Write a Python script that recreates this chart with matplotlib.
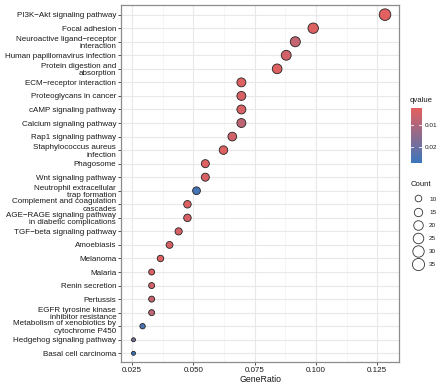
import matplotlib
matplotlib.use("Agg")
import matplotlib.pyplot as plt
from matplotlib.colors import LinearSegmentedColormap, Normalize
from matplotlib.lines import Line2D
from matplotlib.ticker import FixedLocator, FormatStrFormatter
import matplotlib.cm as cm
import numpy as np

plt.rcParams['font.family'] = ['Liberation Sans', 'DejaVu Sans']

# pathways, top to bottom
pathways = [
    "PI3K\u2212Akt signaling pathway",
    "Focal adhesion",
    "Neuroactive ligand\u2212receptor\ninteraction",
    "Human papillomavirus infection",
    "Protein digestion and\nabsorption",
    "ECM\u2212receptor interaction",
    "Proteoglycans in cancer",
    "cAMP signaling pathway",
    "Calcium signaling pathway",
    "Rap1 signaling pathway",
    "Staphylococcus aureus\ninfection",
    "Phagosome",
    "Wnt signaling pathway",
    "Neutrophil extracellular\ntrap formation",
    "Complement and coagulation\ncascades",
    "AGE\u2212RAGE signaling pathway\nin diabetic complications",
    "TGF\u2212beta signaling pathway",
    "Amoebiasis",
    "Melanoma",
    "Malaria",
    "Renin secretion",
    "Pertussis",
    "EGFR tyrosine kinase\ninhibitor resistance",
    "Metabolism of xenobiotics by\ncytochrome P450",
    "Hedgehog signaling pathway",
    "Basal cell carcinoma",
]
gene_ratio = [0.1282, 0.0989, 0.0916, 0.0879, 0.0842, 0.0696, 0.0696, 0.0696,
              0.0696, 0.0659, 0.0623, 0.0549, 0.0549, 0.0513, 0.0476, 0.0476,
              0.0440, 0.0403, 0.0366, 0.0330, 0.0330, 0.0330, 0.0330, 0.0293,
              0.0256, 0.0256]
counts = [35, 27, 25, 24, 23, 19, 19, 19, 19, 18, 17, 15, 15, 14, 13, 13,
          12, 11, 10, 9, 9, 9, 9, 8, 7, 7]
qvalues = [0.0025, 0.003, 0.007, 0.005, 0.003, 0.003, 0.004, 0.004, 0.008,
           0.005, 0.003, 0.003, 0.004, 0.026, 0.003, 0.004, 0.004, 0.004,
           0.003, 0.004, 0.005, 0.007, 0.008, 0.025, 0.018, 0.027]

size_breaks = [10, 15, 20, 25, 30, 35]
q_ticks = [0.01, 0.02]
q_min, q_max = 0.0023, 0.0274
c_min, c_max = 7, 35

dpi = 100
W, H = 441, 386
cmap = LinearSegmentedColormap.from_list("q", ["#E3605F", "#3C76BC"])
norm = Normalize(q_min, q_max)
edge_lw = 0.6


def diam_pt(c, lo=4.8, span=7.6):
    # area scale, diameter in px -> points
    t = (np.asarray(c, float) - c_min) / (c_max - c_min)
    return (lo + span * np.sqrt(np.clip(t, 0, 1))) * 72 / dpi


fig = plt.figure(figsize=(W / dpi, H / dpi), dpi=dpi)
ax = fig.add_axes([121 / W, 1 - 361.7 / H, (399 - 121) / W, (361.7 - 5.3) / H])

n = len(pathways)
ypos = np.arange(n)[::-1]
sizes = (diam_pt(counts) - edge_lw) ** 2
ax.scatter(gene_ratio, ypos, s=sizes, c=qvalues, cmap=cmap, norm=norm,
           edgecolors="#222222", linewidths=edge_lw, zorder=3)

ax.set_xlim(0.0205, 0.1339)
ax.set_ylim(-0.62, n - 1 + 0.69)
ax.set_yticks(ypos)
ax.set_yticklabels(pathways, linespacing=1.1)
ax.xaxis.set_major_locator(FixedLocator([0.025, 0.05, 0.075, 0.1, 0.125]))
ax.xaxis.set_minor_locator(FixedLocator([0.0375, 0.0625, 0.0875, 0.1125]))
ax.xaxis.set_major_formatter(FormatStrFormatter('%.3f'))
ax.tick_params(axis='both', which='major', labelsize=5.8, colors='#333333',
               length=2, width=0.6, pad=1.5)
ax.tick_params(axis='x', which='minor', length=0)
for lab in ax.get_xticklabels() + ax.get_yticklabels():
    lab.set_color('#1A1A1A')
ax.grid(True, which='major', color='#E8E8E8', linewidth=0.8, zorder=0)
ax.grid(True, which='minor', axis='x', color='#F1F1F1', linewidth=0.5, zorder=0)
ax.set_axisbelow(True)
for sp in ax.spines.values():
    sp.set_color('#8C8C8C')
    sp.set_linewidth(0.9)
ax.set_xlabel("GeneRatio", fontsize=6.3, color='#1A1A1A', labelpad=1)

# qvalue colourbar
cax = fig.add_axes([410.5 / W, 1 - 162.7 / H, 11 / W, (162.7 - 108.3) / H])
cb = fig.colorbar(cm.ScalarMappable(norm=norm, cmap=cmap), cax=cax)
cb.outline.set_visible(False)
cax.invert_yaxis()
cb.set_ticks(q_ticks)
cb.set_ticklabels(["0.01", "0.02"])
cax.tick_params(labelsize=4.6, length=0, pad=2, colors='#1A1A1A')
for q in q_ticks:
    cax.plot([0, 0.2], [q, q], color='white', lw=0.6, transform=cax.get_yaxis_transform())
    cax.plot([0.8, 1], [q, q], color='white', lw=0.6, transform=cax.get_yaxis_transform())
fig.text(409.5 / W, 1 - 100 / H, "qvalue", fontsize=5.6, color='#1A1A1A',
         ha='left', va='center')

# Count legend
handles = [Line2D([], [], linestyle='none', marker='o', markerfacecolor='white',
                  markeredgecolor='#333333', markeredgewidth=edge_lw,
                  markersize=float(diam_pt(b, 4.8, 8.2)) - edge_lw)
           for b in size_breaks]
leg = fig.legend(handles, [str(b) for b in size_breaks], loc='upper left',
                 bbox_to_anchor=(406 / W, 1 - 177 / H), frameon=False,
                 title="Count", alignment='left', fontsize=4.6,
                 title_fontsize=5.6, handletextpad=0.7, labelspacing=1.2,
                 handlelength=2.2, borderpad=0.2)
leg.get_title().set_color('#1A1A1A')
for t in leg.get_texts():
    t.set_color('#1A1A1A')

fig.savefig("out.png", dpi=dpi, facecolor='white')
